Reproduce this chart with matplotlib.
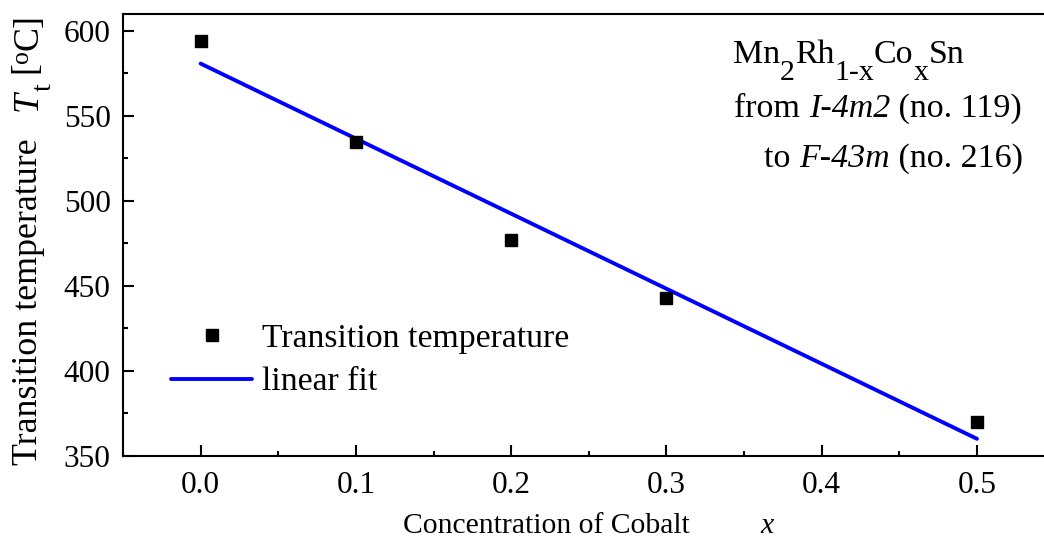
import numpy as np
import matplotlib
matplotlib.use("Agg")
import matplotlib.pyplot as plt

plt.rcParams["font.family"] = ["Liberation Serif", "DejaVu Serif"]

# Co concentration and measured transition temperature (°C)
cobalt_x = [0.0, 0.1, 0.2, 0.3, 0.5]
transition_temp = [593.8, 534.4, 476.8, 442.7, 370.1]

xticks = [0.0, 0.1, 0.2, 0.3, 0.4, 0.5]
yticks = [350, 400, 450, 500, 550, 600]

slope, intercept = np.polyfit(cobalt_x, transition_temp, 1)
fit_x = np.array([min(cobalt_x), max(cobalt_x)])
fit_y = slope * fit_x + intercept

W, H = 1044, 547
fig = plt.figure(figsize=(W / 100, H / 100), dpi=100)
renderer = fig.canvas.get_renderer()

left, right, top, bottom = 123, 1054.6, 13.5, 456
ax = fig.add_axes([left / W, 1 - bottom / H, (right - left) / W, (bottom - top) / H])


def text_advance(s, size, style):
    """Horizontal advance of a string in pixels."""
    probe = fig.text(0, 0, s + "|", fontsize=size, style=style)
    bar = fig.text(0, 0, "|", fontsize=size, style=style)
    w = probe.get_window_extent(renderer).width - bar.get_window_extent(renderer).width
    probe.remove()
    bar.remove()
    return w


def rich_text(x0, y0, runs, size, align="left", vertical=False):
    """Draw runs of (text, style, scale, shift_px) on one baseline.
    x0, y0 are pixels from the top-left corner; shift > 0 lowers a run."""
    widths = [text_advance(t, size * sc, st) for t, st, sc, _ in runs]
    total = sum(widths)
    if vertical:
        pos = y0
    else:
        pos = x0 - total if align == "right" else x0
    for (t, st, sc, sh), w in zip(runs, widths):
        if vertical:
            fig.text((x0 + sh) / W, 1 - pos / H, t, fontsize=size * sc, style=st,
                     rotation=90, rotation_mode="anchor", ha="left", va="baseline")
            pos -= w
        else:
            fig.text(pos / W, 1 - (y0 + sh) / H, t, fontsize=size * sc, style=st,
                     ha="left", va="baseline")
            pos += w


ax.plot(fit_x, fit_y, color="#0000FF", lw=2.8, solid_capstyle="round",
        label="linear fit", zorder=2)
ax.plot(cobalt_x, transition_temp, "s", color="black", ms=8.6, ls="none",
        label="Transition temperature", zorder=3)

ax.set_xlim(-0.05, 0.55)
ax.set_ylim(350, 610)
ax.set_xticks(xticks)
ax.set_xticklabels([f"{v:.1f}" for v in xticks])
ax.set_yticks(yticks)
ax.set_xticks(np.arange(-0.05, 0.55, 0.1), minor=True)
ax.set_yticks(np.arange(375, 610, 50), minor=True)

for s in ("left", "bottom", "top"):
    ax.spines[s].set_linewidth(1.5)
ax.spines["right"].set_visible(False)
ax.tick_params(which="major", direction="in", length=7.7, width=1.5,
               labelsize=22.5, top=False, right=False)
ax.tick_params(which="minor", direction="in", length=3.8, width=1.5,
               top=False, right=False)
ax.tick_params(axis="x", pad=11)
ax.tick_params(axis="y", pad=9)

handles, labels = ax.get_legend_handles_labels()
ax.legend(handles[::-1], labels[::-1], loc="upper left",
          bbox_to_anchor=(171 / W, 1 - 323 / H), bbox_transform=fig.transFigure,
          frameon=False, fontsize=24.3, handlelength=2.4, handletextpad=0.3,
          labelspacing=0.39, borderaxespad=0, borderpad=0)

# axis titles
fig.text(403 / W, 1 - 533 / H, "Concentration of Cobalt", fontsize=21.3,
         ha="left", va="baseline")
fig.text(760 / W, 1 - 533 / H, "x", fontsize=21.3, style="italic",
         ha="left", va="baseline")

rich_text(37, 465, [
    ("Transition temperature   ", "normal", 1.0, 0),
    ("T", "italic", 1.0, 0),
    ("t", "normal", 0.78, 14),
    (" [", "normal", 1.0, 0),
    ("o", "normal", 0.72, -9),
    ("C]", "normal", 1.0, 0),
], 25.8, vertical=True)

# compound and space groups
sub = 17
rich_text(732.7, 62.7, [
    ("Mn", "normal", 1.0, 0),
    ("2", "normal", 0.88, sub),
    ("Rh", "normal", 1.0, 0),
    ("1-x", "normal", 0.88, sub),
    ("Co", "normal", 1.0, 0),
    ("x", "normal", 0.88, sub),
    ("Sn", "normal", 1.0, 0),
], 24.5)
rich_text(1021.7, 116.7, [
    ("from ", "normal", 1.0, 0),
    ("I-4m2", "italic", 1.0, 0),
    (" (no. 119)", "normal", 1.0, 0),
], 24.5, align="right")
rich_text(1023, 166.7, [
    ("to ", "normal", 1.0, 0),
    ("F-43m", "italic", 1.0, 0),
    (" (no. 216)", "normal", 1.0, 0),
], 24.5, align="right")

fig.savefig("out.png", dpi=100)
